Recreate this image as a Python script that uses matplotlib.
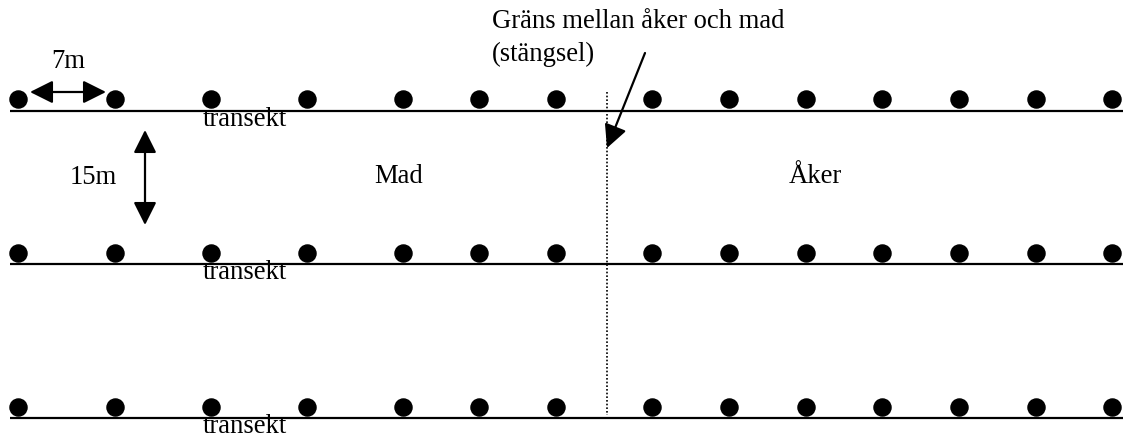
import matplotlib
matplotlib.use("Agg")
import matplotlib.pyplot as plt
from matplotlib.patches import FancyArrowPatch

W, H = 1123, 437

# Diagram data (pixel layout of the sketch)
row_line_y = [111, 264, 418]
row_dot_y = [99, 253, 407]
mad_dot_x = [18, 115, 211, 307, 403, 479, 556]
aker_dot_x = [652, 729, 806, 882, 959, 1036, 1112]
fence_x = 607
row_label = "transekt"
area_labels = ["Mad", "Åker"]
fence_label = ["Gräns mellan åker och mad", "(stängsel)"]
dist_labels = ["7m", "15m"]

plt.rcParams['font.family'] = ['Liberation Serif', 'DejaVu Serif']
fig = plt.figure(figsize=(W / 100, H / 100), dpi=100)
ax = fig.add_axes([0, 0, 1, 1])
ax.set_xlim(0, W)
ax.set_ylim(H, 0)
ax.axis('off')

FS = 19.2
dot_x = mad_dot_x + aker_dot_x
for ly, dy in zip(row_line_y, row_dot_y):
    ax.plot([10, W], [ly, ly], color='black', lw=1.6, solid_capstyle='butt')
    ax.scatter(dot_x, [dy] * len(dot_x), s=12.3**2, color='black', zorder=3)
    ax.text(203, ly + 15, row_label, fontsize=FS, ha='left', va='baseline')

# fence
ax.plot([fence_x, fence_x], [92, 415], color='black', lw=1.2, ls=(0, (1, 1.2)))

# area labels
ax.text(399, 183, area_labels[0], fontsize=FS, ha='center', va='baseline')
ax.text(815, 183, area_labels[1], fontsize=FS, ha='center', va='baseline')

# fence label
ax.text(492, 28, fence_label[0], fontsize=FS, ha='left', va='baseline')
ax.text(492, 61, fence_label[1], fontsize=FS, ha='left', va='baseline')

def arrow(p0, p1, style):
    a = FancyArrowPatch(p0, p1, arrowstyle=style, mutation_scale=1,
                        color='black', lw=1.6, shrinkA=0, shrinkB=0)
    ax.add_patch(a)

hs = "head_length=14,head_width=7"
arrow((645, 53), (607, 148), "-|>," + hs)
arrow((30, 92), (106, 92), "<|-|>," + hs)
arrow((145, 130), (145, 225), "<|-|>," + hs)

ax.text(68, 68, dist_labels[0], fontsize=FS, ha='center', va='baseline')
ax.text(93, 184, dist_labels[1], fontsize=FS, ha='center', va='baseline')

fig.savefig("out.png", dpi=100, facecolor='white')
